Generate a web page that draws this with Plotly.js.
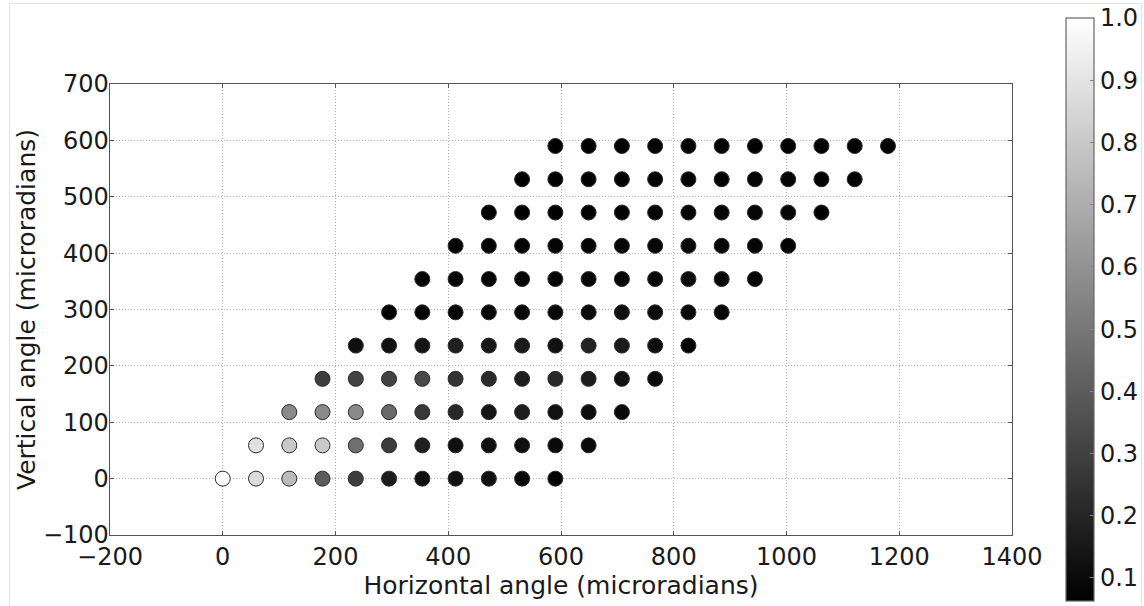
<!DOCTYPE html>
<html>
<head>
<meta charset="utf-8">
<script src="https://cdn.plot.ly/plotly-3.0.1.min.js"></script>
<style>
  html, body { margin: 0; padding: 0; background: #ffffff; overflow: hidden; }
  #wrap { position: relative; width: 1144px; height: 606px; overflow: hidden; }
  #chart { position: absolute; left: 0; top: 0; width: 1180px; height: 606px; }
  #frame { position: absolute; left: 9px; top: 3px; width: 1131px; height: 620px;
           border: 1px solid #e4e4e4; pointer-events: none; }
</style>
</head>
<body>
<div id="wrap">
  <div id="chart"></div>
  <div id="frame"></div>
</div>
<script>
// Vertical angle of each row (microradians)
const verticalAngles = [0, 59, 118, 177, 236, 295, 354, 413, 472, 531, 590];

// Horizontal angles of the points in each row (microradians)
const horizontalRows = [
  [0, 59, 118, 177, 236, 295, 354, 413, 472, 531, 590],
  [59, 118, 177, 236, 295, 354, 413, 472, 531, 590, 649],
  [118, 177, 236, 295, 354, 413, 472, 531, 590, 649, 708],
  [177, 236, 295, 354, 413, 472, 531, 590, 649, 708, 767],
  [236, 295, 354, 413, 472, 531, 590, 649, 708, 767, 826],
  [295, 354, 413, 472, 531, 590, 649, 708, 767, 826, 885],
  [354, 413, 472, 531, 590, 649, 708, 767, 826, 885, 944],
  [413, 472, 531, 590, 649, 708, 767, 826, 885, 944, 1003],
  [472, 531, 590, 649, 708, 767, 826, 885, 944, 1003, 1062],
  [531, 590, 649, 708, 767, 826, 885, 944, 1003, 1062, 1121],
  [590, 649, 708, 767, 826, 885, 944, 1003, 1062, 1121, 1180]
];

// Normalised value at each point (colour)
const valueRows = [
  [1.0, 0.87, 0.75, 0.40, 0.29, 0.17, 0.12, 0.125, 0.12, 0.10, 0.075],
  [0.89, 0.80, 0.80, 0.47, 0.28, 0.18, 0.12, 0.125, 0.12, 0.10, 0.10],
  [0.57, 0.57, 0.57, 0.45, 0.27, 0.21, 0.14, 0.17, 0.125, 0.11, 0.10],
  [0.29, 0.31, 0.31, 0.33, 0.25, 0.22, 0.17, 0.21, 0.17, 0.125, 0.10],
  [0.12, 0.125, 0.14, 0.18, 0.15, 0.16, 0.125, 0.19, 0.16, 0.11, 0.08],
  [0.07, 0.08, 0.08, 0.09, 0.09, 0.10, 0.107, 0.118, 0.107, 0.10, 0.08],
  [0.068, 0.074, 0.08, 0.08, 0.08, 0.09, 0.09, 0.10, 0.107, 0.09, 0.08],
  [0.066, 0.07, 0.075, 0.08, 0.08, 0.085, 0.085, 0.09, 0.09, 0.085, 0.075],
  [0.065, 0.068, 0.07, 0.075, 0.075, 0.08, 0.08, 0.085, 0.085, 0.08, 0.07],
  [0.064, 0.066, 0.068, 0.07, 0.072, 0.075, 0.075, 0.078, 0.08, 0.075, 0.07],
  [0.063, 0.064, 0.066, 0.068, 0.07, 0.07, 0.072, 0.075, 0.075, 0.072, 0.068]
];

const colorbarTicks = [0.1, 0.2, 0.3, 0.4, 0.5, 0.6, 0.7, 0.8, 0.9, 1.0];

const xs = [], ys = [], cs = [];
horizontalRows.forEach((row, i) => {
  row.forEach((h, j) => {
    xs.push(h);
    ys.push(verticalAngles[i]);
    cs.push(valueRows[i][j]);
  });
});
const cmin = Math.min.apply(null, cs);
const cmax = Math.max.apply(null, cs);

const fontFamily = 'DejaVu Sans, sans-serif';
const textColor = '#1a1a1a';

const trace = {
  type: 'scatter',
  mode: 'markers',
  x: xs,
  y: ys,
  marker: {
    size: 15,
    color: cs,
    cmin: cmin,
    cmax: cmax,
    colorscale: [[0, '#000000'], [1, '#ffffff']],
    line: { color: '#2a2a2a', width: 1 },
    showscale: true,
    colorbar: {
      x: (1066 - 110) / 902,
      xanchor: 'left',
      xpad: 0,
      y: 0.5,
      yanchor: 'middle',
      ypad: 0,
      thickness: 28,
      thicknessmode: 'pixels',
      len: 583,
      lenmode: 'pixels',
      outlinecolor: '#666666',
      outlinewidth: 1.2,
      tickvals: colorbarTicks,
      tickformat: '.1f',
      ticks: 'inside',
      ticklen: 4,
      tickcolor: '#888888',
      tickfont: { family: fontFamily, size: 24, color: textColor },
      ticklabelposition: 'outside'
    }
  },
  hoverinfo: 'x+y'
};

const axisCommon = {
  showline: true,
  mirror: 'ticks',
  linecolor: '#555555',
  linewidth: 1.3,
  ticks: 'inside',
  ticklen: 4,
  tickcolor: '#555555',
  showgrid: true,
  gridcolor: '#b0b0b0',
  gridwidth: 1,
  griddash: '1px,2px',
  zeroline: false,
  tickfont: { family: fontFamily, size: 24, color: textColor },
  automargin: false
};

const layout = {
  width: 1180,
  height: 606,
  margin: { l: 110, r: 168, t: 84, b: 71 },
  paper_bgcolor: 'rgba(0,0,0,0)',
  plot_bgcolor: '#ffffff',
  showlegend: false,
  font: { family: fontFamily, size: 24, color: textColor },
  xaxis: Object.assign({}, axisCommon, {
    range: [-200, 1400],
    dtick: 200,
    tick0: 0,
    title: { text: 'Horizontal angle (microradians)', font: { family: fontFamily, size: 25, color: textColor }, standoff: 4 }
  }),
  yaxis: Object.assign({}, axisCommon, {
    range: [-100, 700],
    dtick: 100,
    tick0: 0,
    ticklabelstandoff: -5,
    title: { text: 'Vertical angle (microradians)', font: { family: fontFamily, size: 25, color: textColor }, standoff: 0 }
  })
};

Plotly.newPlot('chart', [trace], layout, { displayModeBar: false, staticPlot: true });
</script>
</body>
</html>
